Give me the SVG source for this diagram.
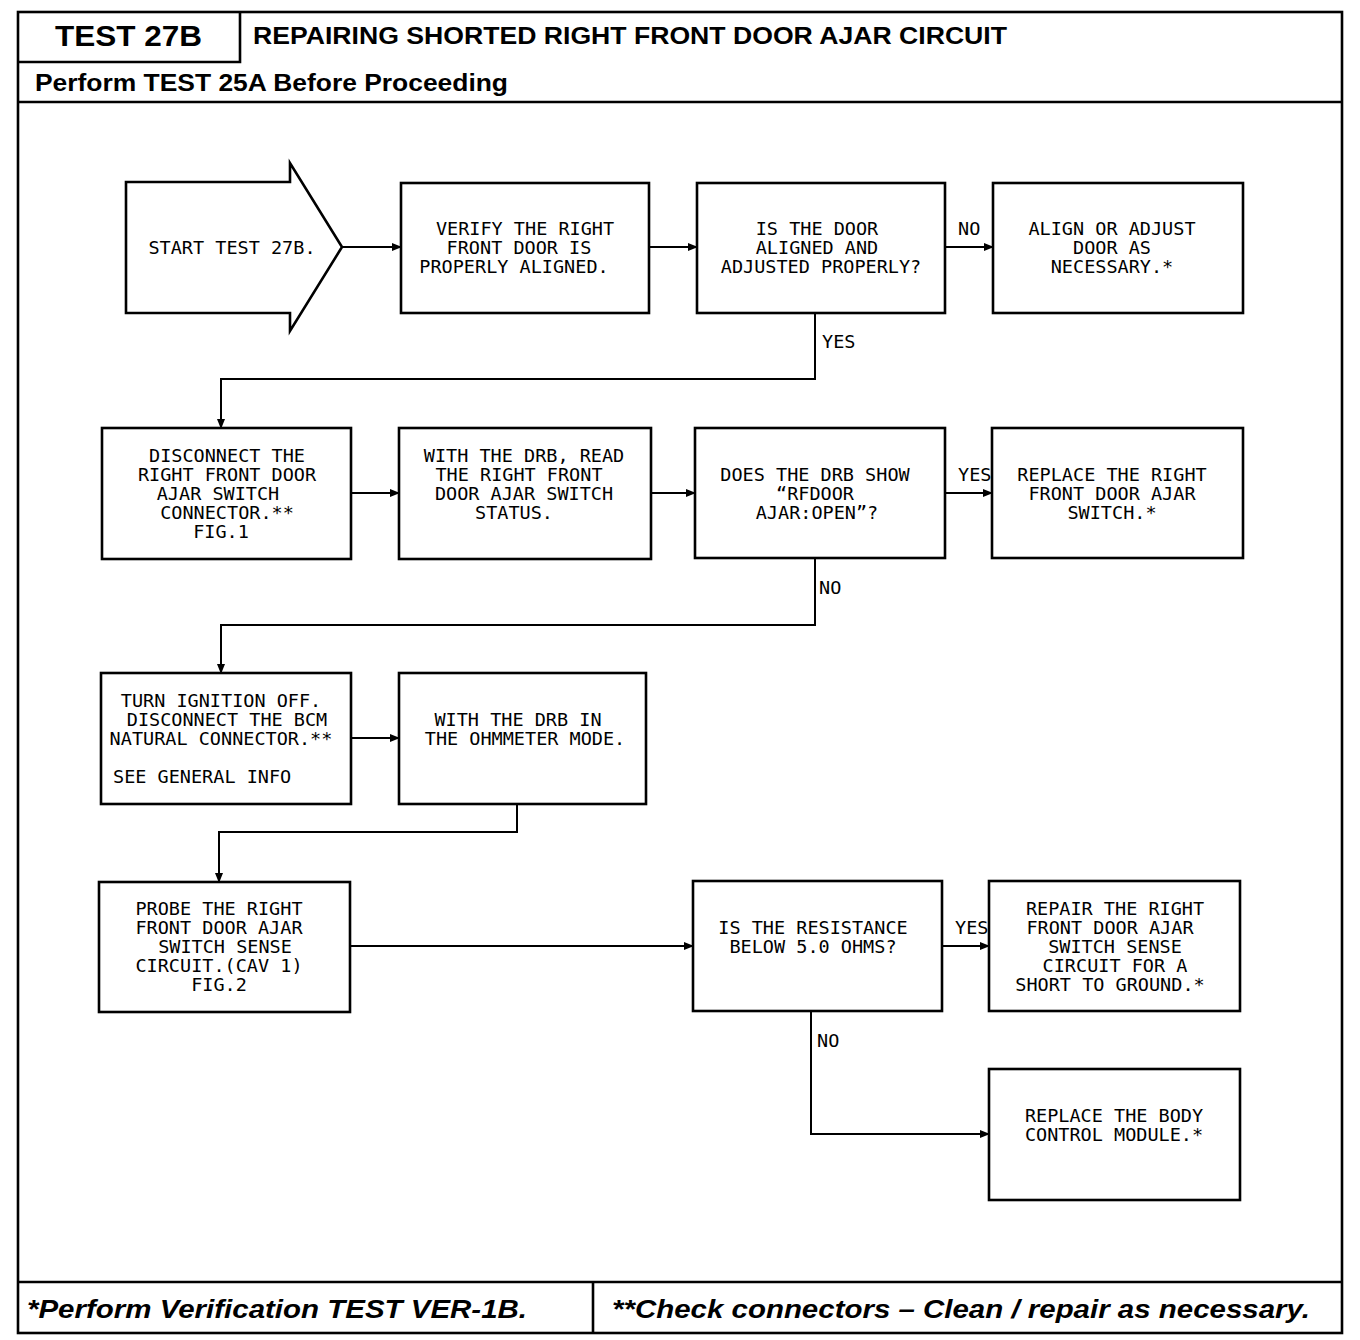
<svg xmlns="http://www.w3.org/2000/svg" width="1360" height="1340" viewBox="0 0 1360 1340">
<defs>
<style>
.box{fill:#fff;stroke:#000;stroke-width:2.6}
.frame{fill:none;stroke:#000;stroke-width:2.6}
.t{font-family:"DejaVu Sans Mono","Liberation Mono",monospace;font-size:18.5px;fill:#000;text-anchor:middle}
.tl{font-family:"DejaVu Sans Mono","Liberation Mono",monospace;font-size:18.5px;fill:#000}
.conn{fill:none;stroke:#000;stroke-width:2}
.hdr{font-family:"Liberation Sans",Arial,sans-serif;font-weight:bold;fill:#000}
.ftr{font-family:"Liberation Sans",Arial,sans-serif;font-weight:bold;font-style:italic;fill:#000;font-size:26px}
</style>
<marker id="ah" markerWidth="10" markerHeight="8" refX="9" refY="4" orient="auto" markerUnits="userSpaceOnUse">
<path d="M0,0 L10,4 L0,8 Z" fill="#000"/>
</marker>
</defs>
<rect width="1360" height="1340" fill="#fff"/>

<g id="frame">
<rect class="frame" x="18" y="12" width="1324" height="1321"/>
<line class="frame" x1="18" y1="102" x2="1342" y2="102"/>
<polyline class="frame" points="18,62 240,62 240,12"/>
<line class="frame" x1="18" y1="1282" x2="1342" y2="1282"/>
<line class="frame" x1="593" y1="1282" x2="593" y2="1333"/>
<text class="hdr" x="55" y="46" font-size="30" textLength="147" lengthAdjust="spacingAndGlyphs">TEST 27B</text>
<text class="hdr" x="253" y="44" font-size="24" textLength="754" lengthAdjust="spacingAndGlyphs">REPAIRING SHORTED RIGHT FRONT DOOR AJAR CIRCUIT</text>
<text class="hdr" x="35" y="91" font-size="23" textLength="473" lengthAdjust="spacingAndGlyphs">Perform TEST 25A Before Proceeding</text>
<text class="ftr" x="27" y="1318" textLength="500" lengthAdjust="spacingAndGlyphs">*Perform Verification TEST VER-1B.</text>
<text class="ftr" x="612" y="1318" textLength="698" lengthAdjust="spacingAndGlyphs">**Check connectors – Clean / repair as necessary.</text>
</g>

<g id="connectors">
<line class="conn" x1="342" y1="247" x2="401" y2="247" marker-end="url(#ah)"/>
<line class="conn" x1="649" y1="247" x2="697" y2="247" marker-end="url(#ah)"/>
<line class="conn" x1="945" y1="247" x2="993" y2="247" marker-end="url(#ah)"/>
<polyline class="conn" points="815,313 815,379 221,379 221,428" marker-end="url(#ah)"/>
<line class="conn" x1="351" y1="493" x2="399" y2="493" marker-end="url(#ah)"/>
<line class="conn" x1="651" y1="493" x2="695" y2="493" marker-end="url(#ah)"/>
<line class="conn" x1="945" y1="493" x2="992" y2="493" marker-end="url(#ah)"/>
<polyline class="conn" points="815,558 815,625 221,625 221,673" marker-end="url(#ah)"/>
<line class="conn" x1="351" y1="738" x2="399" y2="738" marker-end="url(#ah)"/>
<polyline class="conn" points="517,804 517,832 219,832 219,882" marker-end="url(#ah)"/>
<line class="conn" x1="350" y1="946" x2="693" y2="946" marker-end="url(#ah)"/>
<line class="conn" x1="942" y1="946" x2="989" y2="946" marker-end="url(#ah)"/>
<polyline class="conn" points="811,1011 811,1134 989,1134" marker-end="url(#ah)"/>
<text class="tl" x="958" y="235">NO</text>
<text class="tl" x="822" y="348">YES</text>
<text class="tl" x="958" y="481">YES</text>
<text class="tl" x="819" y="594">NO</text>
<text class="tl" x="955" y="934">YES</text>
<text class="tl" x="817" y="1047">NO</text>
</g>

<g id="n-start">
<polygon class="box" points="126,182 290,182 290,163 342,247 290,331 290,313 126,313"/>
<text class="t" x="232" y="254">START TEST 27B.</text>
</g>
<g id="n-verify">
<rect class="box" x="401" y="183" width="248" height="130"/>
<text class="t" x="525" y="235">VERIFY THE RIGHT</text>
<text class="t" x="519" y="254">FRONT DOOR IS</text>
<text class="t" x="514" y="273">PROPERLY ALIGNED.</text>
</g>
<g id="n-aligned">
<rect class="box" x="697" y="183" width="248" height="130"/>
<text class="t" x="817" y="235">IS THE DOOR</text>
<text class="t" x="817" y="254">ALIGNED AND</text>
<text class="t" x="821" y="273">ADJUSTED PROPERLY?</text>
</g>
<g id="n-align">
<rect class="box" x="993" y="183" width="250" height="130"/>
<text class="t" x="1112" y="235">ALIGN OR ADJUST</text>
<text class="t" x="1112" y="254">DOOR AS</text>
<text class="t" x="1112" y="273">NECESSARY.*</text>
</g>

<g id="n-disconnect">
<rect class="box" x="102" y="428" width="249" height="131"/>
<text class="t" x="227" y="462">DISCONNECT THE</text>
<text class="t" x="227" y="481">RIGHT FRONT DOOR</text>
<text class="t" x="218" y="500">AJAR SWITCH</text>
<text class="t" x="227" y="519">CONNECTOR.**</text>
<text class="t" x="221" y="538">FIG.1</text>
</g>
<g id="n-read">
<rect class="box" x="399" y="428" width="252" height="131"/>
<text class="t" x="524" y="462">WITH THE DRB, READ</text>
<text class="t" x="519" y="481">THE RIGHT FRONT</text>
<text class="t" x="524" y="500">DOOR AJAR SWITCH</text>
<text class="t" x="514" y="519">STATUS.</text>
</g>
<g id="n-show">
<rect class="box" x="695" y="428" width="250" height="130"/>
<text class="t" x="815" y="481">DOES THE DRB SHOW</text>
<text class="t" x="815" y="500">“RFDOOR</text>
<text class="t" x="817" y="519">AJAR:OPEN”?</text>
</g>
<g id="n-replace-switch">
<rect class="box" x="992" y="428" width="251" height="130"/>
<text class="t" x="1112" y="481">REPLACE THE RIGHT</text>
<text class="t" x="1112" y="500">FRONT DOOR AJAR</text>
<text class="t" x="1112" y="519">SWITCH.*</text>
</g>

<g id="n-ignition">
<rect class="box" x="101" y="673" width="250" height="131"/>
<text class="t" x="221" y="707">TURN IGNITION OFF.</text>
<text class="t" x="227" y="726">DISCONNECT THE BCM</text>
<text class="t" x="221" y="745">NATURAL CONNECTOR.**</text>
<text class="tl" x="113" y="783">SEE GENERAL INFO</text>
</g>
<g id="n-ohmmeter">
<rect class="box" x="399" y="673" width="247" height="131"/>
<text class="t" x="518" y="726">WITH THE DRB IN</text>
<text class="t" x="525" y="745">THE OHMMETER MODE.</text>
</g>

<g id="n-probe">
<rect class="box" x="99" y="882" width="251" height="130"/>
<text class="t" x="219" y="915">PROBE THE RIGHT</text>
<text class="t" x="219" y="934">FRONT DOOR AJAR</text>
<text class="t" x="225" y="953">SWITCH SENSE</text>
<text class="t" x="219" y="972">CIRCUIT.(CAV 1)</text>
<text class="t" x="219" y="991">FIG.2</text>
</g>
<g id="n-resistance">
<rect class="box" x="693" y="881" width="249" height="130"/>
<text class="t" x="813" y="934">IS THE RESISTANCE</text>
<text class="t" x="813" y="953">BELOW 5.0 OHMS?</text>
</g>
<g id="n-repair">
<rect class="box" x="989" y="881" width="251" height="130"/>
<text class="t" x="1115" y="915">REPAIR THE RIGHT</text>
<text class="t" x="1110" y="934">FRONT DOOR AJAR</text>
<text class="t" x="1115" y="953">SWITCH SENSE</text>
<text class="t" x="1115" y="972">CIRCUIT FOR A</text>
<text class="t" x="1110" y="991">SHORT TO GROUND.*</text>
</g>
<g id="n-bcm">
<rect class="box" x="989" y="1069" width="251" height="131"/>
<text class="t" x="1114" y="1122">REPLACE THE BODY</text>
<text class="t" x="1114" y="1141">CONTROL MODULE.*</text>
</g>
</svg>
